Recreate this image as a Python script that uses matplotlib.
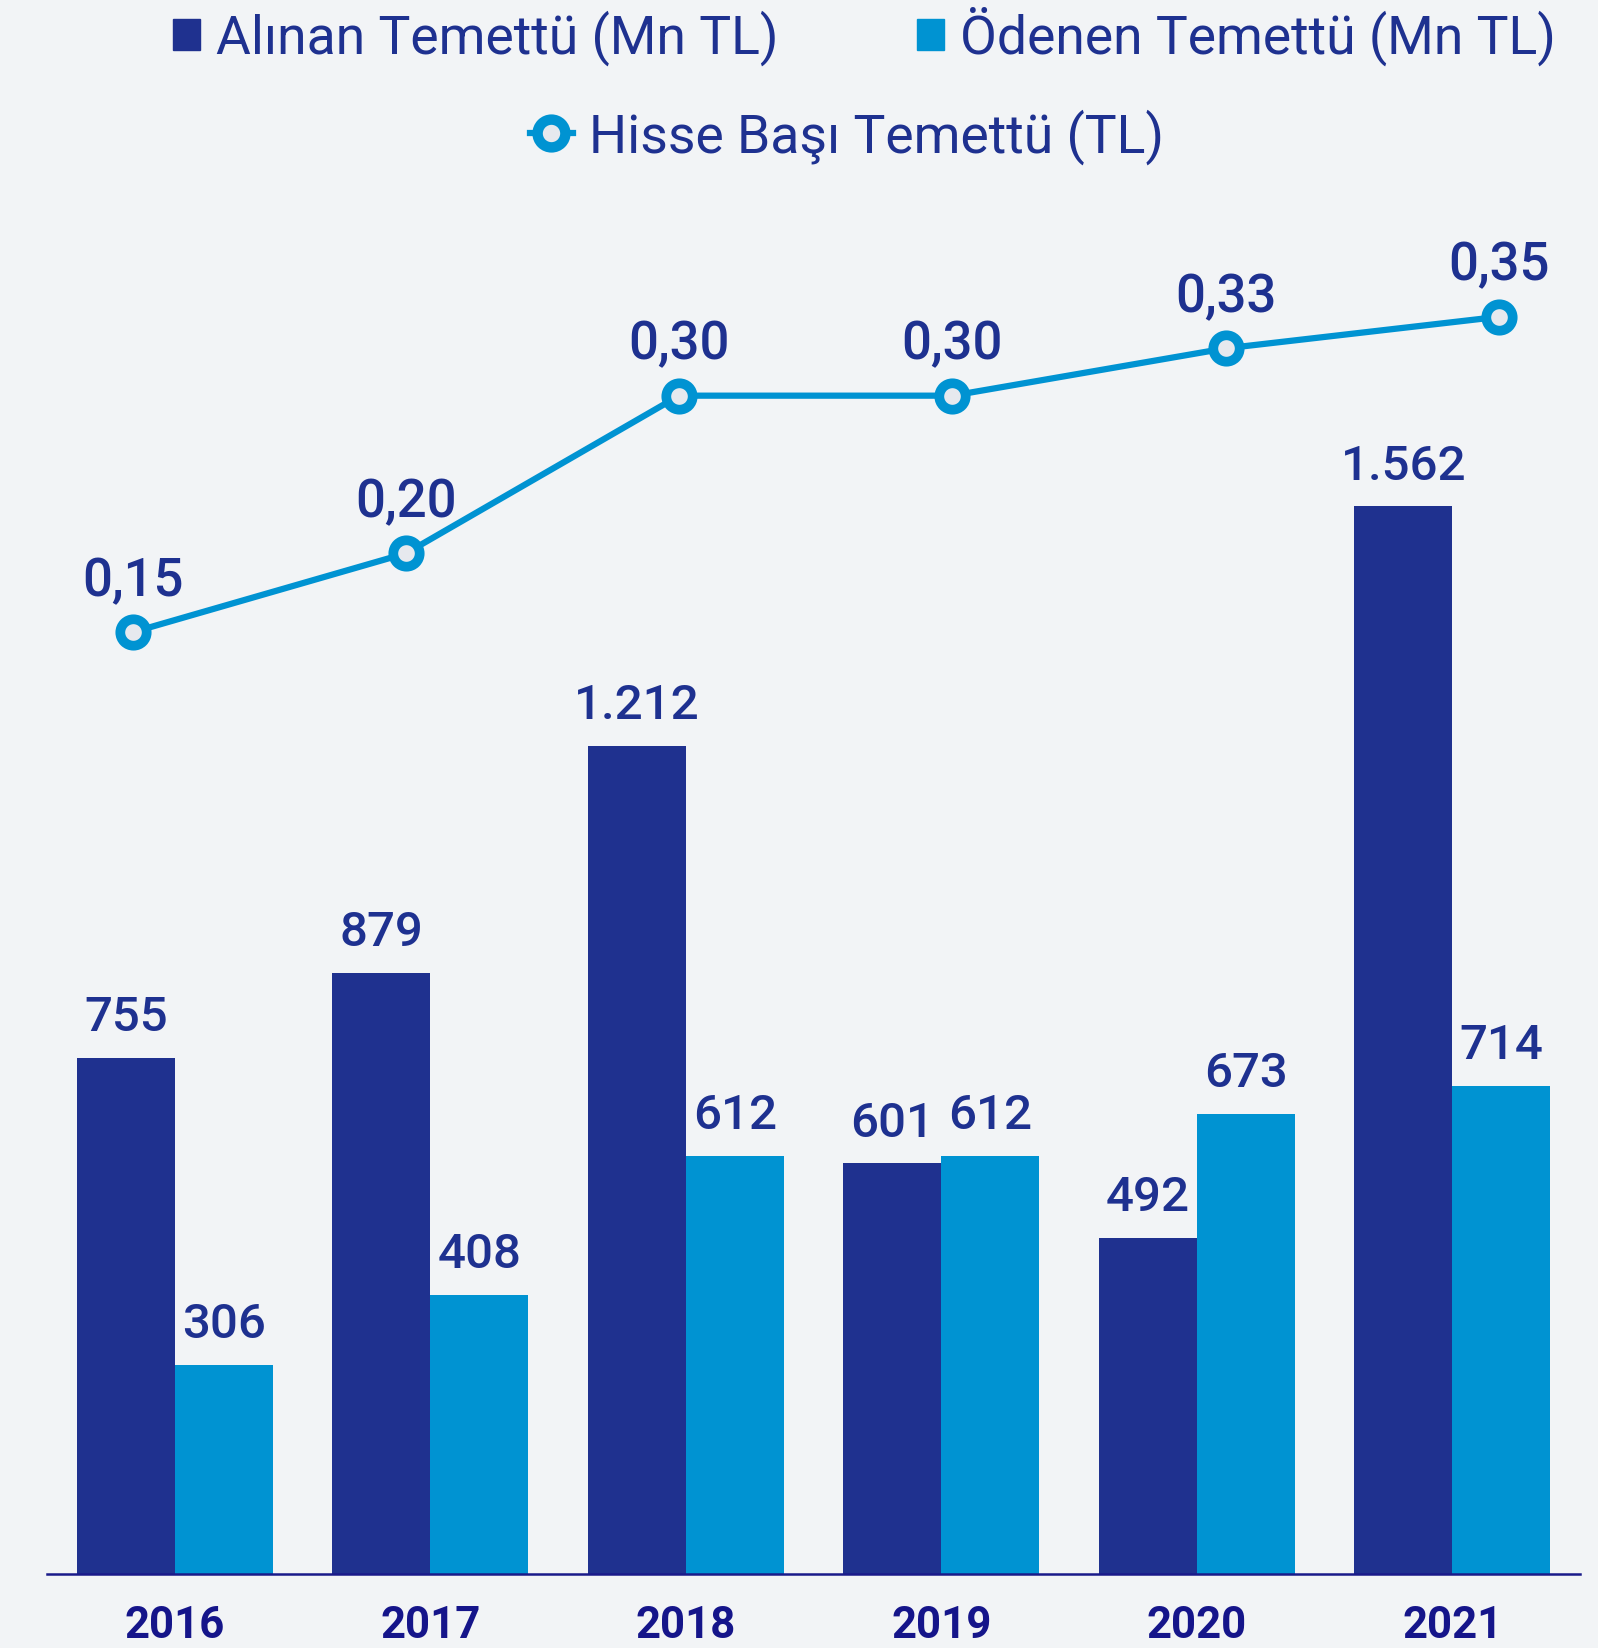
import numpy as np
import matplotlib.pyplot as plt
from matplotlib.patches import Patch
from matplotlib.lines import Line2D

years = ['2016', '2017', '2018', '2019', '2020', '2021']
alinan = [755, 879, 1212, 601, 492, 1562]
odenen = [306, 408, 612, 612, 673, 714]
hisse_basi = [0.15, 0.20, 0.30, 0.30, 0.33, 0.35]

dark = '#1F318F'
light = '#0093D2'
txt = '#1E3190'
bg = '#F2F4F6'

plt.rcParams['font.family'] = ['Roboto', 'DejaVu Sans']

fig = plt.figure(figsize=(15.98, 16.48), dpi=100, facecolor=bg)
rect = [0.0294, 0.0449, 0.9593, 0.8337]
ax = fig.add_axes(rect)
ax.set_facecolor(bg)

x = np.arange(len(years))
w = 0.383
b1 = ax.bar(x - w / 2, alinan, w, color=dark)
b2 = ax.bar(x + w / 2, odenen, w, color=light)


def fmt(v):
    return f'{v:,}'.replace(',', '.')


for bars, vals in [(b1, alinan), (b2, odenen)]:
    ax.bar_label(bars, labels=[fmt(v) for v in vals], padding=12,
                 fontsize=35.5, fontweight='medium', color=txt)

ax.set_xlim(-0.5, 5.5)
ax.set_ylim(0, 2010)
ax.set_xticks(x)
ax.set_xticklabels(years, fontsize=31.5, fontweight='bold', color='#15158A')
ax.tick_params(axis='x', length=0, pad=22)
ax.set_yticks([])
for s in ['top', 'left', 'right']:
    ax.spines[s].set_visible(False)
ax.spines['bottom'].set_color('#1A1A8A')
ax.spines['bottom'].set_linewidth(1.8)

# line on its own axes (different x spacing than the bars)
ax2 = fig.add_axes(rect)
ax2.set_facecolor('none')
ax2.axis('off')
ax2.set_xlim(-0.313, 5.296)
ax2.set_ylim(-0.447, 0.424)
ax2.plot(x, hisse_basi, color=light, lw=4.5, marker='o', ms=19, mew=7,
         mfc='#E6E9EE', mec=light, zorder=3)
for xi, v in zip(x, hisse_basi):
    ax2.annotate(f'{v:.2f}'.replace('.', ','), (xi, v), xytext=(0, 26),
                 textcoords='offset points', ha='center', va='baseline',
                 fontsize=38, fontweight='medium', color=txt)

h1 = [Patch(color=dark), Patch(color=light)]
fig.legend(h1, ['Alınan Temettü (Mn TL)', 'Ödenen Temettü (Mn TL)'],
           loc='center', bbox_to_anchor=(0.541, 0.978), ncol=2,
           frameon=False, fontsize=38.5, labelcolor=txt,
           handlelength=0.5, handleheight=0.5, handletextpad=0.3,
           columnspacing=2.6)
h2 = [Line2D([], [], color=light, lw=4.5, marker='o', ms=20, mew=7.5,
             mfc='#E6E9EE', mec=light)]
fig.legend(h2, ['Hisse Başı Temettü (TL)'], loc='center',
           bbox_to_anchor=(0.530, 0.917), frameon=False, fontsize=38.5,
           labelcolor=txt, handlelength=0.8, handletextpad=0.3)

plt.savefig('out.png', dpi=100, facecolor=bg)
